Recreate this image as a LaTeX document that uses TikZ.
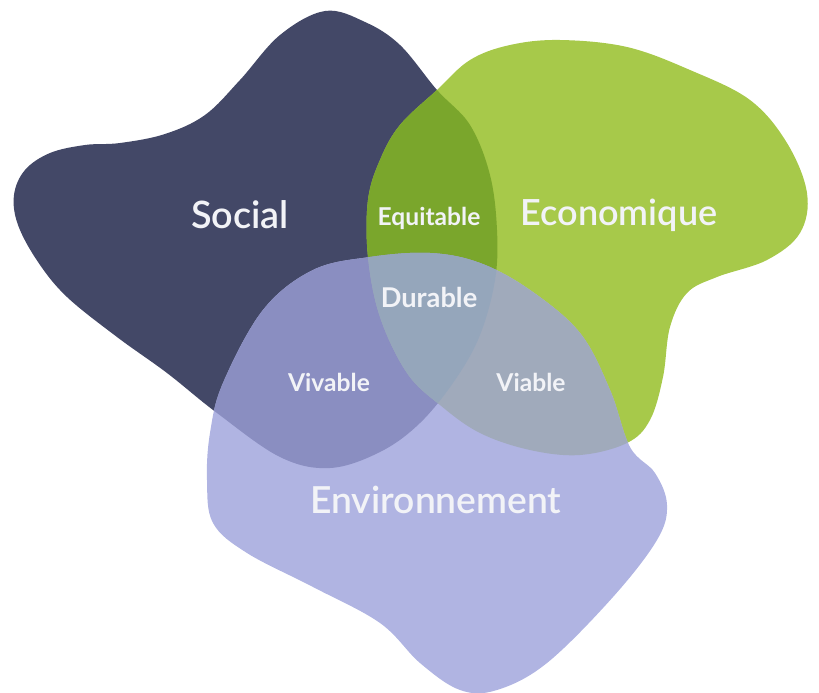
\documentclass[tikz,border=0pt]{standalone}
\usepackage{fontspec}
\setmainfont{Lato}
\IfFontExistsTF{Lato Semibold}{\newfontfamily\latosemi{Lato Semibold}}{\newfontfamily\latosemi{Lato}[FakeBold=1.2]}
\usetikzlibrary{positioning}

\definecolor{socialcol}{HTML}{434867}
\definecolor{ecocol}{HTML}{A7C94A}
\definecolor{envcol}{HTML}{B0B4E2}
\definecolor{equicol}{HTML}{7AA62C}
\definecolor{vivcol}{HTML}{8A8EC1}
\definecolor{viacol}{HTML}{A0AABB}
\definecolor{durcol}{HTML}{95A6BB}
\definecolor{txtcol}{HTML}{F2F3F7}

\newcommand{\socialblob}{plot[smooth cycle, tension=0.6] coordinates {(325,11) (365,22) (400,45) (437,90) (470,125) (490,175) (497,230) (495,280) (480,335) (455,380) (420,423) (380,452) (330,468) (280,457) (217,413) (167,373) (117,337) (67,297) (38,262) (18,225) (14,195) (25,170) (50,153) (85,145) (120,143) (165,134) (205,115) (240,80) (280,35)}}
\newcommand{\ecoblob}{plot[smooth cycle, tension=0.6] coordinates {(560,40) (627,47) (690,70) (750,100) (787,143) (807,193) (800,233) (767,260) (717,277) (687,293) (670,327) (663,377) (650,420) (627,443) (580,455) (530,450) (480,433) (440,405) (407,373) (380,317) (368,257) (368,200) (380,160) (400,125) (437,90) (470,60) (510,45)}}
\newcommand{\envblob}{plot[smooth cycle, tension=0.6] coordinates {(370,257) (430,253) (480,263) (530,290) (580,333) (610,390) (630,447) (655,473) (667,505) (657,540) (613,597) (547,663) (497,690) (460,690) (420,663) (380,623) (313,587) (247,553) (213,523) (207,480) (210,433) (223,383) (263,310) (313,270)}}

\begin{document}
\begin{tikzpicture}[x=0.02cm, y=-0.02cm]
	\tikzset{bigname/.style={text=txtcol, font=\latosemi\fontsize{20.5}{24}\selectfont},
		smallname/.style={text=txtcol, font=\bfseries\fontsize{14}{17}\selectfont}}
	\useasboundingbox (0,0) rectangle (819,693);
	
	\fill[socialcol] \socialblob;
	\fill[ecocol] \ecoblob;
	\fill[envcol] \envblob;
	
	% overlaps
	\begin{scope}
		\clip \socialblob;
		\fill[equicol] \ecoblob;
	\end{scope}
	\begin{scope}
		\clip \envblob;
		\fill[vivcol] \socialblob;
	\end{scope}
	\begin{scope}
		\clip \envblob;
		\fill[viacol] \ecoblob;
	\end{scope}
	\begin{scope}
		\clip \envblob;
		\clip \socialblob;
		\fill[durcol] \ecoblob;
	\end{scope}
	
	\node[bigname, font=\latosemi\fontsize{21.5}{25}\selectfont] (social) at (240,215) {Social};
	\node[bigname] (eco) at (619,215) {Economique};
	\node[bigname, font=\latosemi\fontsize{21.2}{25}\selectfont] (env) at (436,500) {Environnement};
	\node[smallname] (equi) at (429,218) {Equitable};
	\node[smallname, font=\bfseries\fontsize{15.5}{18}\selectfont] (dur) at (429,297) {Durable};
	\node[smallname] (viv) at (329,382) {Vivable};
	\node[smallname] (via) at (531,382) {Viable};
	
\end{tikzpicture}
\end{document}
